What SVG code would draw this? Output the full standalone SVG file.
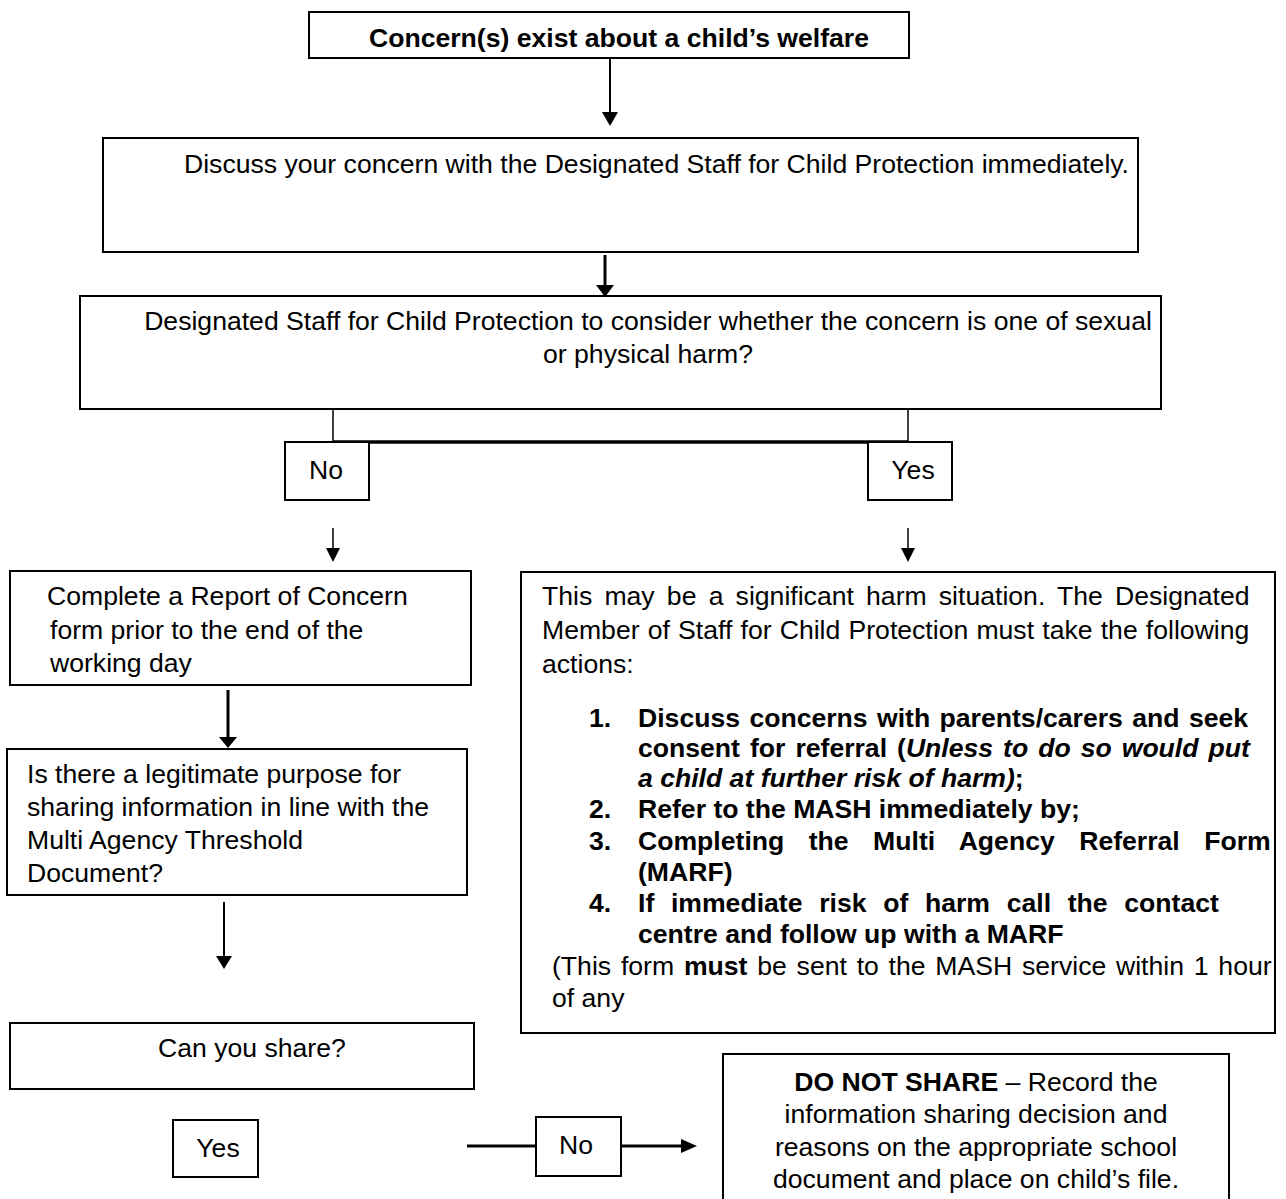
<svg xmlns="http://www.w3.org/2000/svg" width="1286" height="1199" viewBox="0 0 1286 1199">
<style>
  .box { fill: #ffffff; stroke: #000000; stroke-width: 2; }
  .t { font-family: "Liberation Sans", Arial, sans-serif; font-size: 26.6px; fill: #000000; }
  .b { font-weight: bold; }
  .bi { font-weight: bold; font-style: italic; }
  .ln { stroke: #000000; fill: none; }
  .hd { fill: #000000; stroke: none; }
</style>
<rect width="1286" height="1199" fill="#ffffff"/>

<g id="connectors">
  <line class="ln" x1="610" y1="58" x2="610" y2="114" stroke-width="2"/>
  <polygon class="hd" points="602,112 618,112 610,126"/>
  <line class="ln" x1="605" y1="255" x2="605" y2="287" stroke-width="3"/>
  <polygon class="hd" points="596,285 614,285 605,297"/>
  <line class="ln" x1="333" y1="409" x2="333" y2="442" stroke-width="1.5"/>
  <line class="ln" x1="908" y1="409" x2="908" y2="442" stroke-width="1.5"/>
  <line class="ln" x1="333" y1="442" x2="908" y2="442" stroke-width="3.5"/>
  <line class="ln" x1="333" y1="528" x2="333" y2="550" stroke-width="1.5"/>
  <polygon class="hd" points="326,548 340,548 333,562"/>
  <line class="ln" x1="908" y1="528" x2="908" y2="550" stroke-width="1.5"/>
  <polygon class="hd" points="901,548 915,548 908,562"/>
  <line class="ln" x1="228" y1="690" x2="228" y2="739" stroke-width="3"/>
  <polygon class="hd" points="219,737 237,737 228,748"/>
  <line class="ln" x1="224" y1="902" x2="224" y2="958" stroke-width="2"/>
  <polygon class="hd" points="216,956 232,956 224,969"/>
  <line class="ln" x1="467" y1="1146" x2="536" y2="1146" stroke-width="3"/>
  <line class="ln" x1="621" y1="1146" x2="683" y2="1146" stroke-width="3"/>
  <polygon class="hd" points="681,1139 681,1153 697,1146"/>
</g>

<g id="node-concern">
  <rect class="box" x="309" y="12" width="600" height="46"/>
  <text class="t b" x="369" y="47">Concern(s) exist about a child’s welfare</text>
</g>

<g id="node-discuss">
  <rect class="box" x="103" y="138" width="1035" height="114"/>
  <text class="t" x="184" y="173">Discuss your concern with the Designated Staff for Child Protection immediately.</text>
</g>

<g id="node-consider">
  <rect class="box" x="80" y="296" width="1081" height="113" stroke-width="2.5"/>
  <text class="t" x="648" y="330" text-anchor="middle">Designated Staff for Child Protection to consider whether the concern is one of sexual</text>
  <text class="t" x="648" y="363" text-anchor="middle">or physical harm?</text>
</g>

<g id="node-no1">
  <rect class="box" x="285" y="442" width="84" height="58"/>
  <text class="t" x="326" y="479" text-anchor="middle">No</text>
</g>

<g id="node-yes1">
  <rect class="box" x="868" y="442" width="84" height="58"/>
  <text class="t" x="913" y="479" text-anchor="middle">Yes</text>
</g>

<g id="node-report">
  <rect class="box" x="10" y="571" width="461" height="114"/>
  <text class="t" x="47" y="605">Complete a Report of Concern</text>
  <text class="t" x="50" y="639">form prior to the end of the</text>
  <text class="t" x="50" y="672">working day</text>
</g>

<g id="node-harm">
  <rect class="box" x="521" y="572" width="754" height="461"/>
  <text class="t" x="542" y="605" word-spacing="4.8">This may be a significant harm situation. The Designated</text>
  <text class="t" x="542" y="639" word-spacing="0.8">Member of Staff for Child Protection must take the following</text>
  <text class="t" x="542" y="673">actions:</text>
  <text class="t b" x="589" y="727">1.</text>
  <text class="t b" x="638" y="727" word-spacing="2">Discuss concerns with parents/carers and seek</text>
  <text class="t b" x="638" y="757" word-spacing="2.6">consent for referral (<tspan class="bi">Unless to do so would put</tspan></text>
  <text class="t bi" x="638" y="787">a child at further risk of harm)<tspan style="font-style:normal">;</tspan></text>
  <text class="t b" x="589" y="818">2.</text>
  <text class="t b" x="638" y="818">Refer to the MASH immediately by;</text>
  <text class="t b" x="589" y="850">3.</text>
  <text class="t b" x="638" y="850" word-spacing="17.1">Completing the Multi Agency Referral Form</text>
  <text class="t b" x="638" y="881">(MARF)</text>
  <text class="t b" x="589" y="912">4.</text>
  <text class="t b" x="638" y="912" word-spacing="9.3">If immediate risk of harm call the contact</text>
  <text class="t b" x="638" y="943">centre and follow up with a MARF</text>
  <text class="t" x="552" y="975" word-spacing="2.4">(This form <tspan class="b">must</tspan> be sent to the MASH service within 1 hour</text>
  <text class="t" x="552" y="1007">of any</text>
</g>

<g id="node-legitimate">
  <rect class="box" x="7" y="749" width="460" height="146"/>
  <text class="t" x="27" y="783">Is there a legitimate purpose for</text>
  <text class="t" x="27" y="816">sharing information in line with the</text>
  <text class="t" x="27" y="849">Multi Agency Threshold</text>
  <text class="t" x="27" y="882">Document?</text>
</g>

<g id="node-share">
  <rect class="box" x="10" y="1023" width="464" height="66"/>
  <text class="t" x="158" y="1057">Can you share?</text>
</g>

<g id="node-yes2">
  <rect class="box" x="173" y="1120" width="85" height="57"/>
  <text class="t" x="218" y="1157" text-anchor="middle">Yes</text>
</g>

<g id="node-no2">
  <rect class="box" x="536" y="1117" width="85" height="59"/>
  <text class="t" x="576" y="1154" text-anchor="middle">No</text>
</g>

<g id="node-donotshare">
  <rect class="box" x="723" y="1054" width="506" height="160"/>
  <text class="t" x="976" y="1091" text-anchor="middle"><tspan class="b">DO NOT SHARE</tspan> – Record the</text>
  <text class="t" x="976" y="1123" text-anchor="middle">information sharing decision and</text>
  <text class="t" x="976" y="1156" text-anchor="middle">reasons on the appropriate school</text>
  <text class="t" x="976" y="1188" text-anchor="middle">document and place on child’s file.</text>
</g>
</svg>
